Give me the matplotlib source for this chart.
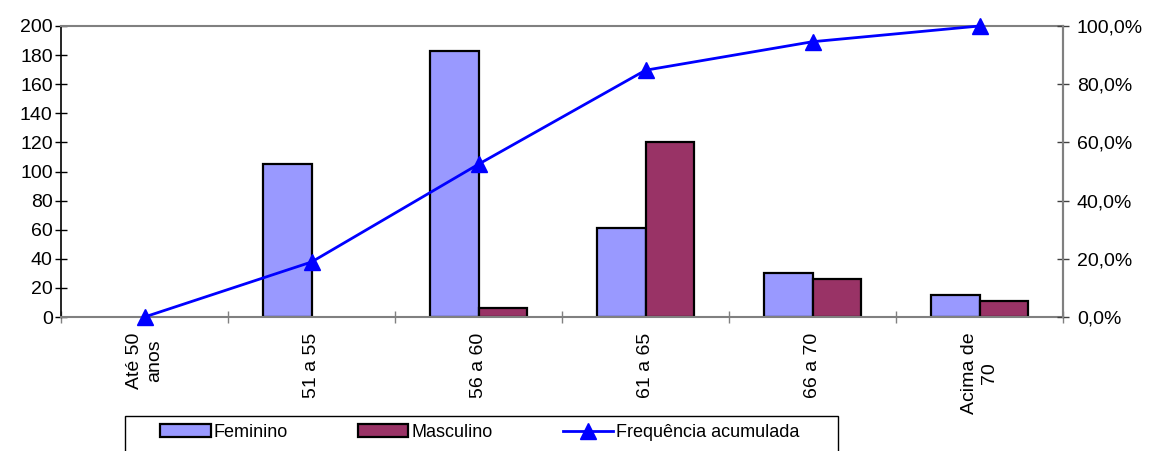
import matplotlib
matplotlib.use("Agg")
import matplotlib.pyplot as plt
import numpy as np
from matplotlib.ticker import FixedLocator, FuncFormatter
from matplotlib.patches import Rectangle, Patch

plt.rcParams['font.family'] = ['Liberation Sans', 'DejaVu Sans']

categories = ["Até 50\nanos", "51 a 55", "56 a 60", "61 a 65", "66 a 70", "Acima de\n70"]
feminino = [0, 105, 183, 61, 30, 15]
masculino = [0, 0, 6, 120, 26, 11]
freq_acum = [0.0, 18.9, 52.5, 84.8, 94.6, 100.0]
left_ticks = [0, 20, 40, 60, 80, 100, 120, 140, 160, 180, 200]
right_ticks = [0, 20, 40, 60, 80, 100]

W, H = 1152, 451
fig = plt.figure(figsize=(W / 100, H / 100), dpi=100)
ax = fig.add_axes([61 / W, 1 - 317 / H, (1063 - 61) / W, (317 - 26) / H])

c_fem, c_mas = '#9999FF', '#993366'
x = np.arange(len(categories))
bw = 0.288
b1 = ax.bar(x - bw / 2, feminino, bw, color=c_fem, edgecolor='black', linewidth=1.6, zorder=2)
b2 = ax.bar(x + bw / 2, masculino, bw, color=c_mas, edgecolor='black', linewidth=1.6, zorder=2)
for cont, vals in ((b1, feminino), (b2, masculino)):
    for p, v in zip(cont.patches, vals):
        if v == 0:
            p.set_visible(False)

ax.set_xlim(-0.5, len(categories) - 0.5)
ax.set_ylim(0, 200)
ax.set_yticks(left_ticks)
ax.tick_params(axis='y', direction='inout', length=8, width=1, colors='black', labelsize=14, pad=2)
ax.set_xticks(x)
ax.set_xticklabels(categories, rotation=90, ha='center', va='top', multialignment='center', fontsize=14)
ax.tick_params(axis='x', length=0, pad=11)
ax.xaxis.set_minor_locator(FixedLocator(np.arange(-0.5, len(categories), 1.0)))
ax.tick_params(axis='x', which='minor', direction='inout', length=9, width=1, color='#808080')

for s in ['top', 'right', 'bottom']:
    ax.spines[s].set_color('#808080')
    ax.spines[s].set_linewidth(1.5)
ax.spines['left'].set_color('black')
ax.spines['left'].set_linewidth(1.2)

ax2 = ax.twinx()
line, = ax2.plot(x, freq_acum, color='#0000FF', linewidth=2.0, marker='^', markersize=11,
                 clip_on=False, zorder=5)
ax2.set_ylim(0, 100)
ax2.set_yticks(right_ticks)
ax2.yaxis.set_major_formatter(FuncFormatter(lambda v, p: f"{v:.1f}%".replace('.', ',')))
ax2.tick_params(axis='y', direction='inout', length=8, width=1, color='#404040', labelsize=14, pad=6)
for s in ['top', 'left', 'bottom']:
    ax2.spines[s].set_visible(False)
ax2.spines['right'].set_color('#808080')
ax2.spines['right'].set_linewidth(1.5)

# legend frame
frame = Rectangle((125 / W, -0.1), (838 - 125) / W, 0.1 + (451 - 416) / H,
                  transform=fig.transFigure, facecolor='white', edgecolor='black',
                  linewidth=1.0, zorder=4)
fig.add_artist(frame)
h1 = Patch(facecolor=c_fem, edgecolor='black', linewidth=1.6)
h2 = Patch(facecolor=c_mas, edgecolor='black', linewidth=1.6)
leg = fig.legend([h1, h2, line], ["Feminino", "Masculino", "Frequência acumulada"],
                 loc='upper left', bbox_to_anchor=(160 / W, 1 - 424 / H),
                 ncol=3, fontsize=13, frameon=False,
                 handlelength=2.8, handleheight=0.7, handletextpad=0.15,
                 columnspacing=3.9, borderpad=0, borderaxespad=0)
leg.set_zorder(6)

fig.savefig("out.png", dpi=100)
